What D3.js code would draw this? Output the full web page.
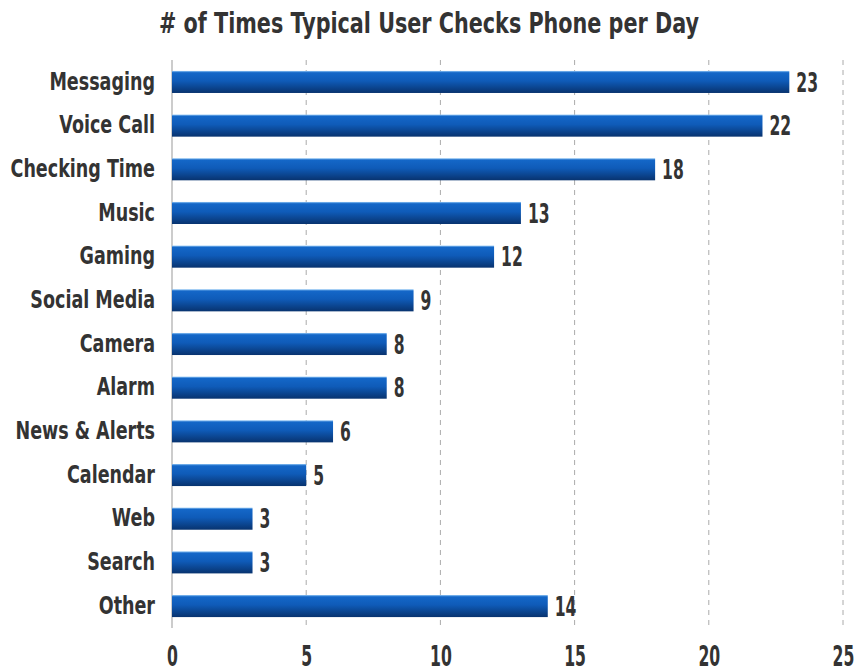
<!DOCTYPE html>
<html>
<head>
<meta charset="utf-8">
<script src="https://cdn.jsdelivr.net/npm/d3@7"></script>
<style>
  body { margin: 0; background: #fff; }
  text { font-family: "DejaVu Sans", sans-serif; font-weight: bold; fill: #333; }
</style>
</head>
<body>
<div id="chart"></div>
<script>
const categories = ["Messaging", "Voice Call", "Checking Time", "Music", "Gaming", "Social Media",
    "Camera", "Alarm", "News & Alerts", "Calendar", "Web", "Search", "Other"];
const values = [23, 22, 18, 13, 12, 9, 8, 8, 6, 5, 3, 3, 14];
const xTicks = [0, 5, 10, 15, 20, 25];

const W = 856, H = 672;
const margin = { top: 60, right: 13, bottom: 50, left: 172 };

// squeeze text horizontally to mimic a condensed font
function condense(sel, k) {
    sel.each(function() {
        const len = this.getComputedTextLength();
        d3.select(this)
            .attr("textLength", len * k)
            .attr("lengthAdjust", "spacingAndGlyphs");
    });
}

const svg = d3.select("#chart").append("svg")
    .attr("width", W)
    .attr("height", H);

const xScale = d3.scaleLinear()
    .domain([0, 25])
    .range([margin.left, margin.left + 671]);

const yScale = d3.scaleBand()
    .domain(categories)
    .range([60, 628])
    .paddingInner(0.495)
    .paddingOuter(0.25);

// gradient for bars
const grad = svg.append("defs").append("linearGradient")
    .attr("id", "barGrad")
    .attr("x1", "0%").attr("y1", "0%")
    .attr("x2", "0%").attr("y2", "100%");
grad.append("stop").attr("offset", "0%").attr("stop-color", "#8ec4f4");
grad.append("stop").attr("offset", "8%").attr("stop-color", "#1467c8");
grad.append("stop").attr("offset", "45%").attr("stop-color", "#0f5bb8");
grad.append("stop").attr("offset", "100%").attr("stop-color", "#08336f");

// title
svg.append("text")
    .attr("x", 429)
    .attr("y", 33)
    .attr("text-anchor", "middle")
    .style("font-size", "28px")
    .text("# of Times Typical User Checks Phone per Day")
    .call(condense, 0.74);

// dashed grid lines
svg.append("g")
    .selectAll("line")
    .data(xTicks.filter(d => d > 0))
    .enter().append("line")
    .attr("x1", d => xScale(d))
    .attr("x2", d => xScale(d))
    .attr("y1", 60)
    .attr("y2", 628)
    .attr("stroke", "#aaa")
    .attr("stroke-width", 1)
    .attr("stroke-dasharray", "5,5");

// zero axis line
svg.append("line")
    .attr("x1", xScale(0)).attr("x2", xScale(0))
    .attr("y1", 60).attr("y2", 628)
    .attr("stroke", "#bbb")
    .attr("stroke-width", 1.5);

// bars
svg.append("g")
    .selectAll("rect")
    .data(categories)
    .enter().append("rect")
    .attr("x", xScale(0))
    .attr("y", d => yScale(d))
    .attr("width", (d, i) => xScale(values[i]) - xScale(0))
    .attr("height", yScale.bandwidth())
    .attr("fill", "url(#barGrad)");

// value labels
svg.append("g")
    .selectAll("text")
    .data(categories)
    .enter().append("text")
    .attr("x", (d, i) => xScale(values[i]) + 7)
    .attr("y", d => yScale(d) + yScale.bandwidth() / 2)
    .attr("dy", "0.37em")
    .style("font-size", "26px")
    .text((d, i) => values[i])
    .call(condense, 0.6);

// category labels
const yAxis = d3.axisLeft(yScale).tickSize(0).tickPadding(17);
svg.append("g")
    .attr("transform", `translate(${xScale(0)},0)`)
    .call(yAxis)
    .call(g => g.select(".domain").remove())
    .selectAll("text")
    .style("font-size", "24px")
    .style("fill", "#333")
    .call(condense, 0.73);

// x axis labels
const xAxis = d3.axisBottom(xScale).tickValues(xTicks).tickSize(0).tickPadding(0);
svg.append("g")
    .attr("transform", "translate(0,646)")
    .call(xAxis)
    .call(g => g.select(".domain").remove())
    .selectAll("text")
    .style("font-size", "28px")
    .style("fill", "#333")
    .call(condense, 0.56);
</script>
</body>
</html>
